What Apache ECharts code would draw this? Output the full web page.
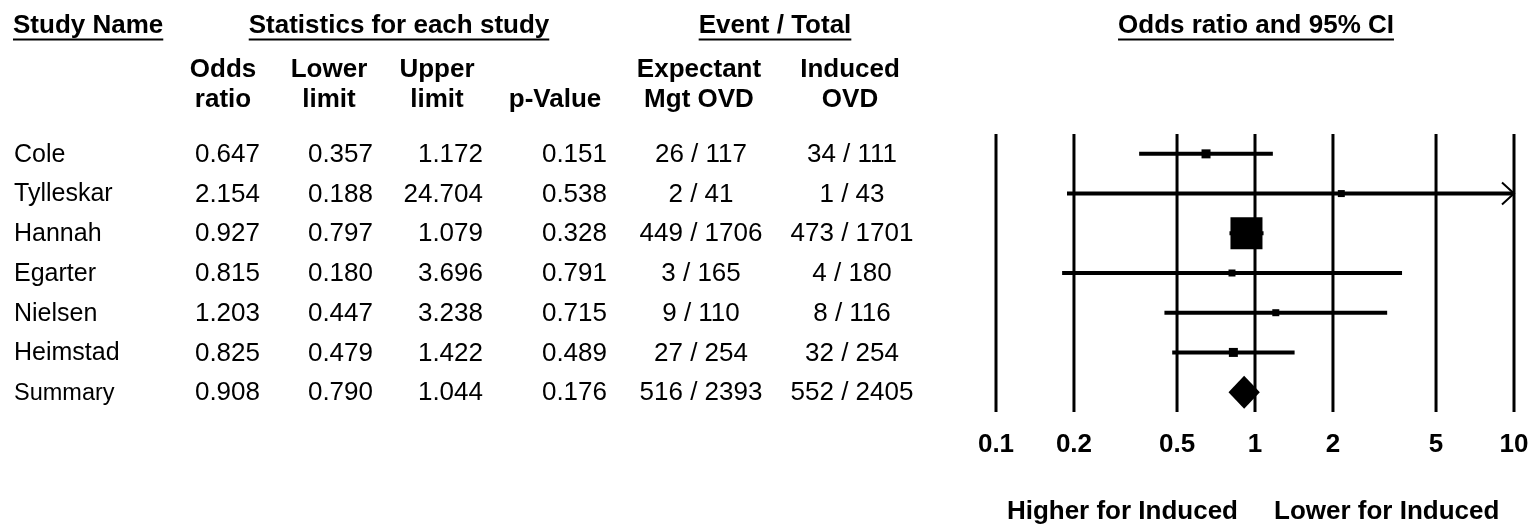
<!DOCTYPE html>
<html><head><meta charset="utf-8">
<script src="https://cdn.jsdelivr.net/npm/echarts@6/dist/echarts.min.js"></script>
<style>html,body{margin:0;padding:0;background:#fff}#c{width:1532px;height:527px}</style>
</head><body><div id="c"></div>
<script>
// ---------- data ----------
const studies = ['Cole','Tylleskar','Hannah','Egarter','Nielsen','Heimstad','Summary'];
const oddsRatio = [0.647,2.154,0.927,0.815,1.203,0.825,0.908];
const lowerLimit = [0.357,0.188,0.797,0.180,0.447,0.479,0.790];
const upperLimit = [1.172,24.704,1.079,3.696,3.238,1.422,1.044];
const pValue = [0.151,0.538,0.328,0.791,0.715,0.489,0.176];
const expectantEvents = [26,2,449,3,9,27,516];
const expectantTotal = [117,41,1706,165,110,254,2393];
const inducedEvents = [34,1,473,4,8,32,552];
const inducedTotal = [111,43,1701,180,116,254,2405];
const tickValues = [0.1,0.2,0.5,1,2,5,10];
const tickLabels = ['0.1','0.2','0.5','1','2','5','10'];

// ---------- styles ----------
const FONT = '"Liberation Sans", Arial, Helvetica, sans-serif';
const markerSize = [9,7,32,7,7,9];
const AXIS_MIN = 0.1, AXIS_MAX = 10;

const chart = echarts.init(document.getElementById('c'), null, {renderer:'canvas'});

function measure(t, f){
  const c = document.createElement('canvas').getContext('2d');
  c.font = f; return c.measureText(t).width;
}
const hFont = 'bold 26px ' + FONT;
const graphics = [];
function title(text, x, align){
  const w = measure(text, hFont);
  const left = align === 'left' ? x : x - w/2;
  graphics.push({type:'text', x:left, y:26, style:{text:text, font:hFont, fill:'#000', align:'left', verticalAlign:'middle'}});
  graphics.push({type:'line', shape:{x1:left, y1:39.5, x2:left+w, y2:39.5}, style:{stroke:'#000', lineWidth:2}});
}
title('Study Name', 13, 'left');
title('Statistics for each study', 399, 'center');
title('Event / Total', 775, 'center');
title('Odds ratio and 95% CI', 1256, 'center');

function sub(text, x, y){
  graphics.push({type:'text', x:x, y:y, style:{text:text, font:hFont, fill:'#000', align:'center', verticalAlign:'middle'}});
}
const L1 = 70, L2 = 100;
sub('Odds', 223, L1); sub('ratio', 223, L2);
sub('Lower', 329, L1); sub('limit', 329, L2);
sub('Upper', 437, L1); sub('limit', 437, L2);
sub('p-Value', 555, L2);
sub('Expectant', 699, L1); sub('Mgt OVD', 699, L2);
sub('Induced', 850, L1); sub('OVD', 850, L2);

graphics.push({type:'text', x:1238, y:512, style:{text:'Higher for Induced', font:hFont, fill:'#000', align:'right', verticalAlign:'middle'}});
graphics.push({type:'text', x:1274, y:512, style:{text:'Lower for Induced', font:hFont, fill:'#000', align:'left', verticalAlign:'middle'}});

const rows = studies.map((s,i)=>[1,i]);

const option = {
  animation:false,
  backgroundColor:'#fff',
  grid:{left:996, right:18, top:134, bottom:115},
  xAxis:{type:'log', logBase:10, min:AXIS_MIN, max:AXIS_MAX, show:false},
  yAxis:{type:'value', min:-0.5, max:studies.length-0.5, inverse:true, show:false},
  graphic:graphics,
  series:[
    { // vertical reference lines + tick labels
      type:'custom', clip:false, silent:true,
      data: tickValues.map((v,i)=>[v,i]),
      renderItem:function(params, api){
        const v = api.value(0), k = api.value(1);
        const x = api.coord([v, 0])[0];
        const cs = params.coordSys;
        return {type:'group', children:[
          {type:'line', shape:{x1:x, y1:cs.y, x2:x, y2:cs.y+cs.height}, style:{stroke:'#000', lineWidth:3}},
          {type:'text', style:{text:tickLabels[k], x:x, y:cs.y+cs.height+33, font:hFont, fill:'#000', align:'center', verticalAlign:'middle'}}
        ]};
      }
    },
    { // table text
      type:'custom', clip:false, silent:true,
      data: rows,
      renderItem:function(params, api){
        const i = api.value(1);
        const y = api.coord([1, i])[1] + 1;
        const nf = (i === studies.length-1 ? '23.5px ' : '25px ') + FONT;
        const df = '26px ' + FONT;
        const t = (text, x, align, f) => ({type:'text', style:{text:text, x:x, y:y, font:f||df, fill:'#000', align:align, verticalAlign:'middle'}});
        return {type:'group', children:[
          t(studies[i], 14, 'left', nf),
          t(oddsRatio[i].toFixed(3), 260, 'right'),
          t(lowerLimit[i].toFixed(3), 373, 'right'),
          t(upperLimit[i].toFixed(3), 483, 'right'),
          t(pValue[i].toFixed(3), 607, 'right'),
          t(expectantEvents[i] + ' / ' + expectantTotal[i], 701, 'center'),
          t(inducedEvents[i] + ' / ' + inducedTotal[i], 852, 'center')
        ]};
      }
    },
    { // forest marks
      type:'custom', clip:false, silent:true,
      data: rows,
      renderItem:function(params, api){
        const i = api.value(1);
        const y = api.coord([1, i])[1];
        const xo = api.coord([oddsRatio[i], i])[0];
        const xl = api.coord([Math.max(lowerLimit[i], AXIS_MIN), i])[0];
        const xh = api.coord([Math.min(upperLimit[i], AXIS_MAX), i])[0];
        const ch = [];
        if (i === studies.length-1) {
          const h = 16.5;
          ch.push({type:'polygon', shape:{points:[[xl,y],[xo,y-h],[xh,y],[xo,y+h]]}, style:{fill:'#000'}});
        } else {
          ch.push({type:'line', shape:{x1:xl, y1:y, x2:xh, y2:y}, style:{stroke:'#000', lineWidth:4}});
          if (upperLimit[i] > AXIS_MAX) {
            ch.push({type:'polyline', shape:{points:[[xh-12,y-11],[xh,y],[xh-12,y+11]]}, style:{stroke:'#000', lineWidth:2, fill:null}});
          }
          if (lowerLimit[i] < AXIS_MIN) {
            ch.push({type:'polyline', shape:{points:[[xl+12,y-11],[xl,y],[xl+12,y+11]]}, style:{stroke:'#000', lineWidth:2, fill:null}});
          }
          const s = markerSize[i];
          ch.push({type:'rect', shape:{x:xo-s/2, y:y-s/2, width:s, height:s}, style:{fill:'#000'}});
        }
        return {type:'group', children:ch};
      }
    }
  ]
};
chart.setOption(option);
</script>
</body></html>
